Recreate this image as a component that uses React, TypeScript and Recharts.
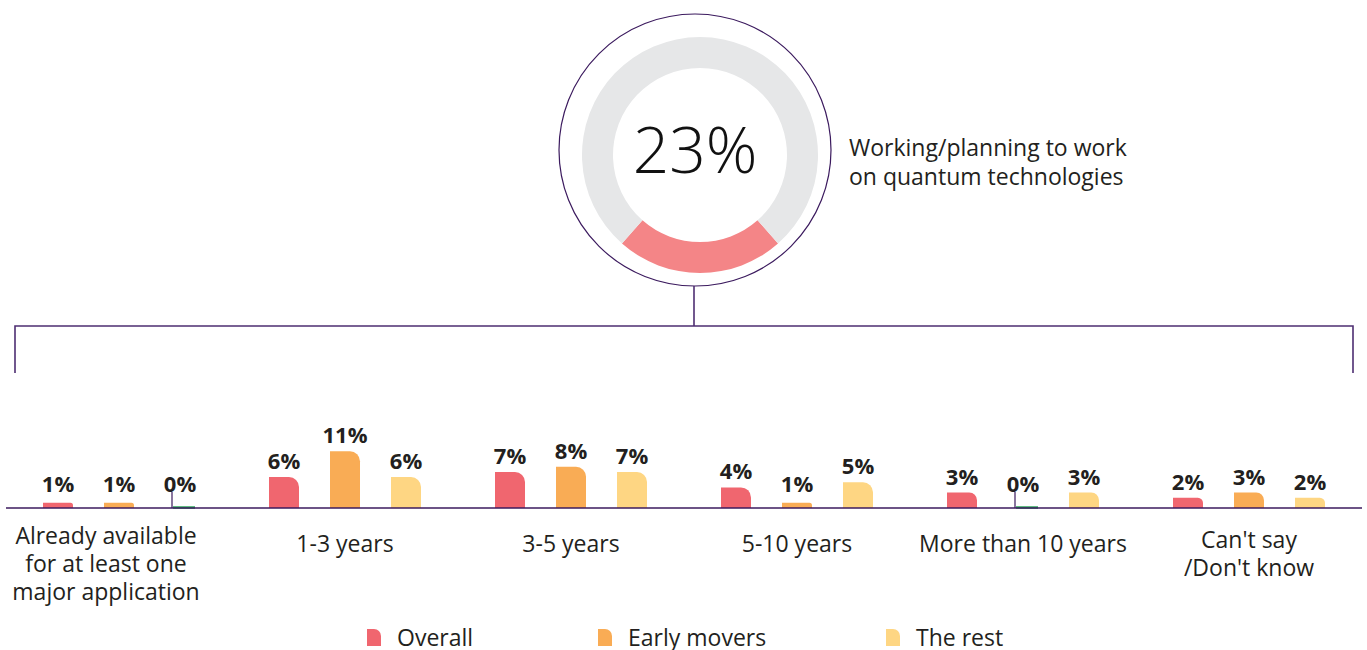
import React from "react";
import { BarChart, Bar, XAxis, YAxis, LabelList, Rectangle, PieChart, Pie, Cell } from "recharts";

const categories = [
  "Already available\nfor at least one\nmajor application",
  "1-3 years",
  "3-5 years",
  "5-10 years",
  "More than 10 years",
  "Can't say\n/Don't know",
];
const overall = [1, 6, 7, 4, 3, 2];
const earlyMovers = [1, 11, 8, 1, 0, 3];
const theRest = [0, 6, 7, 5, 3, 2];
const seriesNames = ["Overall", "Early movers", "The rest"];
const seriesColors = ["#F0666F", "#F9AC55", "#FED683"];
const donutValue = 23;
const donutCaption = ["Working/planning to work", "on quantum technologies"];

const data = categories.map((c, i) => ({
  cat: c,
  overall: overall[i],
  early: earlyMovers[i],
  rest: theRest[i],
}));
const donutData = [
  { name: "yes", value: donutValue },
  { name: "no", value: 100 - donutValue },
];

const FONT = "'Open Sans', 'Noto Sans', sans-serif";
const PURPLE = "#3B1A5E";
const TEXT = "#231F20";

const makeShape = (fill: string) => (props: any) => {
  const x = Number(props.x);
  const y = Number(props.y);
  const width = Number(props.width);
  const height = Number(props.height);
  if (!height || height < 0.5) {
    const base = y + (height || 0);
    return (
      <g>
        <line x1={x + 8} x2={x + width} y1={base - 0.5} y2={base - 0.5} stroke="#2EA65A" strokeWidth={2.5} />
        <line x1={x + 7} x2={x + 7} y1={base - 16} y2={base} stroke={PURPLE} strokeWidth={1.2} />
      </g>
    );
  }
  const r = Math.min(10, height);
  return <Rectangle x={x} y={y} width={width} height={height} fill={fill} radius={[0, r, 0, 0] as any} />;
};

const renderValueLabel = (props: any) => {
  const x = Number(props.x);
  const y = Number(props.y);
  const width = Number(props.width);
  const base = Math.min(y - 8, 112);
  return (
    <text
      x={x + width / 2}
      y={base}
      textAnchor="middle"
      fontFamily={FONT}
      fontSize={22}
      fontWeight={700}
      fill={TEXT}
    >
      {`${props.value}%`}
    </text>
  );
};

const CatTick = (props: any) => {
  const { x, y, payload, index } = props;
  const lines = String(payload.value).split("\n");
  const first = 27 - (lines.length - 1) * 4;
  const dx = index === 0 ? -13 : 0;
  return (
    <g>
      {lines.map((l: string, i: number) => (
        <text
          key={i}
          x={Number(x) + dx}
          y={Number(y) + first + i * 28}
          textAnchor="middle"
          dominantBaseline="central"
          fontFamily={FONT}
          fontSize={23}
          fill={TEXT}
        >
          {l}
        </text>
      ))}
    </g>
  );
};

const legendX = [367, 598, 886];

export default function App() {
  const start = 270 - (donutValue * 3.6) / 2;
  return (
    <div
      style={{
        position: "absolute",
        left: 0,
        top: 0,
        width: 1367,
        height: 650,
        overflow: "hidden",
        background: "#fff",
        fontFamily: FONT,
      }}
    >
      <div style={{ position: "absolute", left: 545, top: 0 }}>
        <PieChart width={300} height={300}>
          <Pie
            data={donutData}
            dataKey="value"
            cx={150}
            cy={150}
            innerRadius={87}
            outerRadius={118}
            startAngle={start}
            endAngle={start + 360}
            stroke="none"
            isAnimationActive={false}
          >
            <Cell fill="#F48587" />
            <Cell fill="#E6E7E8" />
          </Pie>
        </PieChart>
      </div>

      <div style={{ position: "absolute", left: 0, top: 380 }}>
        <BarChart
          width={1367}
          height={270}
          data={data}
          margin={{ top: 25, right: 5, left: 6, bottom: 42 }}
          barSize={30}
          barGap={31}
        >
          <XAxis
            dataKey="cat"
            axisLine={{ stroke: PURPLE, strokeWidth: 1.5 }}
            tickLine={false}
            tick={<CatTick />}
            height={100}
            interval={0}
          />
          <YAxis hide domain={[0, 20]} />
          <Bar dataKey="overall" name={seriesNames[0]} fill={seriesColors[0]} shape={makeShape(seriesColors[0])} isAnimationActive={false}>
            <LabelList dataKey="overall" content={renderValueLabel} />
          </Bar>
          <Bar dataKey="early" name={seriesNames[1]} fill={seriesColors[1]} shape={makeShape(seriesColors[1])} isAnimationActive={false}>
            <LabelList dataKey="early" content={renderValueLabel} />
          </Bar>
          <Bar dataKey="rest" name={seriesNames[2]} fill={seriesColors[2]} shape={makeShape(seriesColors[2])} isAnimationActive={false}>
            <LabelList dataKey="rest" content={renderValueLabel} />
          </Bar>
        </BarChart>
      </div>

      <svg
        width={1367}
        height={650}
        style={{ position: "absolute", left: 0, top: 0, pointerEvents: "none" }}
      >
        <circle cx={695} cy={150} r={136} fill="none" stroke={PURPLE} strokeWidth={1.2} />
        <line x1={694} x2={694} y1={286} y2={326} stroke="#4E2E72" strokeWidth={1.6} />
        <polyline
          points="15,373 15,326 1353,326 1353,373"
          fill="none"
          stroke="#4E2E72"
          strokeWidth={1.6}
        />
        <text
          x={695}
          y={148}
          textAnchor="middle"
          dominantBaseline="central"
          fontFamily={FONT}
          fontSize={64}
          fontWeight={300}
          fill="#111"
        >
          {`${donutValue}%`}
        </text>
        {donutCaption.map((t, i) => (
          <text
            key={i}
            x={849}
            y={147 + i * 29}
            dominantBaseline="central"
            fontFamily={FONT}
            fontSize={23}
            fill={TEXT}
          >
            {t}
          </text>
        ))}
      </svg>

      {seriesNames.map((n, i) => (
        <div
          key={n}
          style={{
            position: "absolute",
            left: legendX[i],
            top: 624,
            height: 26,
            display: "flex",
            alignItems: "center",
            whiteSpace: "nowrap",
          }}
        >
          <div
            style={{
              width: 14,
              height: 17,
              background: seriesColors[i],
              borderTopRightRadius: 7,
              marginRight: 16,
            }}
          />
          <span style={{ fontSize: 23, lineHeight: "26px", color: TEXT, fontFamily: FONT }}>{n}</span>
        </div>
      ))}
    </div>
  );
}
